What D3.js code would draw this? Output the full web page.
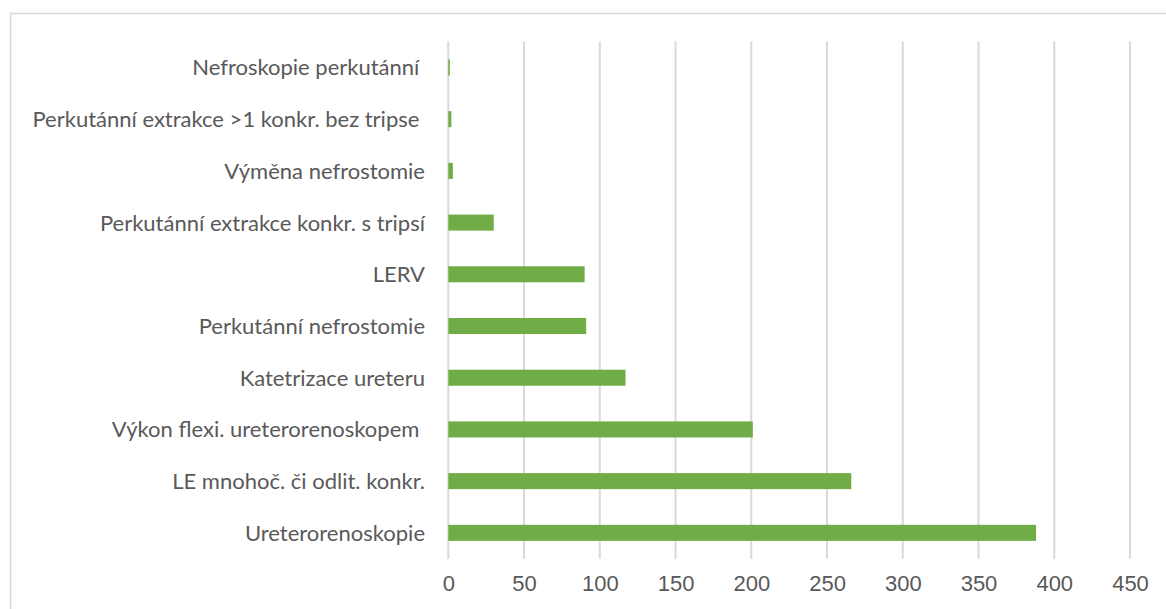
<!DOCTYPE html>
<html lang="cs">
<head>
<meta charset="utf-8" />
<script src="https://cdn.jsdelivr.net/npm/d3@7/dist/d3.min.js"></script>
<style>
  body { margin: 0; background: #fff; }
  svg { font-family: Lato, "Open Sans", sans-serif; }
  .lbl { font-size: 22px; fill: #595959; white-space: pre; }
  .tick text { font-size: 22px; fill: #595959; }
</style>
</head>
<body>
<svg id="chart" width="1166" height="609"></svg>
<script>
// categories top to bottom, as in the picture
var categories = [
  "Nefroskopie perkutánní ",
  "Perkutánní extrakce >1 konkr. bez tripse ",
  "Výměna nefrostomie",
  "Perkutánní extrakce konkr. s tripsí",
  "LERV",
  "Perkutánní nefrostomie",
  "Katetrizace ureteru",
  "Výkon flexi. ureterorenoskopem ",
  "LE mnohoč. či odlit. konkr.",
  "Ureterorenoskopie"
];
var values = [1, 2, 3, 30, 90, 91, 117, 201, 266, 388];
var tickValues = [0, 50, 100, 150, 200, 250, 300, 350, 400, 450];

var svg = d3.select("#chart");

// outer chart frame (runs past the right and bottom edges)
svg.append("rect")
    .attr("x", 10.5).attr("y", 13.5)
    .attr("width", 1170).attr("height", 620)
    .attr("fill", "none")
    .attr("stroke", "#d9d9d9")
    .attr("stroke-width", 1.5);

var x = d3.scaleLinear().domain([0, 450]).range([448.3, 1130]);
var y = d3.scaleBand()
    .domain(categories)
    .range([41.6, 558.7])
    .paddingInner(0.69)
    .paddingOuter(0.345);

// vertical gridlines
svg.append("g")
  .selectAll("line")
  .data(tickValues)
  .enter().append("line")
    .attr("x1", function(d) { return x(d); })
    .attr("x2", function(d) { return x(d); })
    .attr("y1", 41.6)
    .attr("y2", 558.7)
    .attr("stroke", "#d9d9d9")
    .attr("stroke-width", 2);

// bars
svg.append("g")
  .selectAll("rect")
  .data(values)
  .enter().append("rect")
    .attr("x", x(0))
    .attr("y", function(d, i) { return y(categories[i]); })
    .attr("width", function(d) { return x(d) - x(0); })
    .attr("height", y.bandwidth())
    .attr("fill", "#70ad47");

// category labels
svg.append("g")
  .selectAll("text")
  .data(categories)
  .enter().append("text")
    .attr("class", "lbl")
    .attr("x", 425)
    .attr("y", function(d) { return y(d) + y.bandwidth() / 2; })
    .attr("dy", "0.36em")
    .attr("text-anchor", "end")
    .text(function(d) { return d; });

// x axis labels
var xAxis = d3.axisBottom(x)
    .tickValues(tickValues)
    .tickSize(0)
    .tickPadding(0)
    .tickFormat(d3.format("d"));

svg.append("g")
    .attr("transform", "translate(0,575)")
    .call(xAxis)
    .call(function(g) { g.select(".domain").remove(); });
</script>
</body>
</html>
